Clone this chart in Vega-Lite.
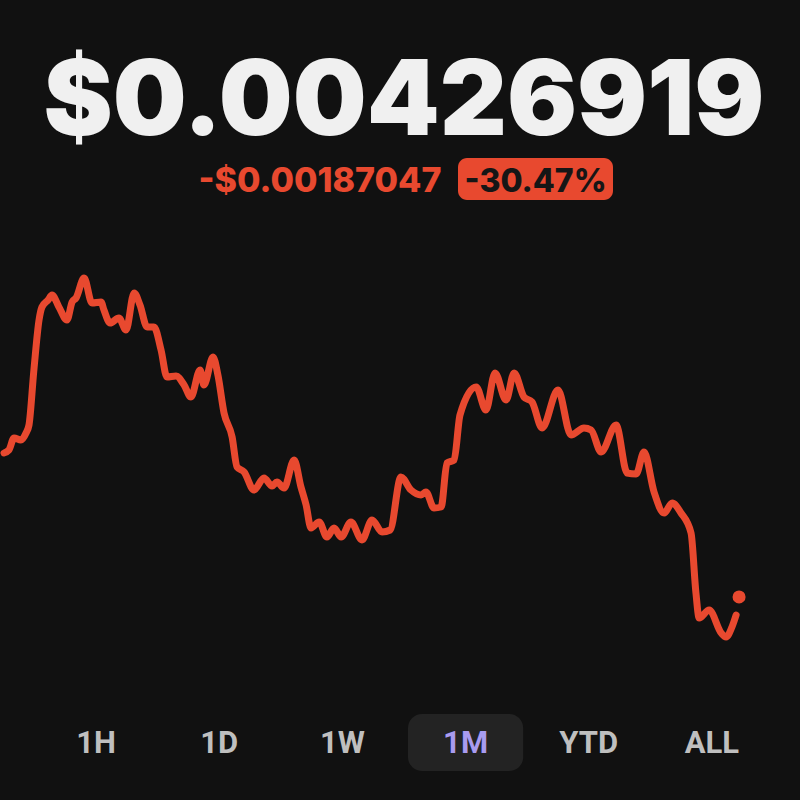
{
  "$schema": "https://vega.github.io/schema/vega-lite/v6.json",
  "background": "#111111",
  "padding": {"left": 0, "top": 0, "right": 0, "bottom": 29},
  "config": {"view": {"stroke": null}, "font": "Inter"},
  "datasets": {
    "quote": [{"price": "$0.00426919", "change": "-$0.00187047", "changePct": "-30.47%"}],
    "series": [
      {"day": 0, "price": 0.006140}, {"day": 0.20, "price": 0.006179}, {"day": 0.41, "price": 0.006335},
      {"day": 0.69, "price": 0.006309}, {"day": 0.90, "price": 0.006400}, {"day": 1.02, "price": 0.006504},
      {"day": 1.22, "price": 0.007219}, {"day": 1.43, "price": 0.007869}, {"day": 1.55, "price": 0.008038},
      {"day": 1.80, "price": 0.008129}, {"day": 1.96, "price": 0.008194}, {"day": 2.24, "price": 0.008038},
      {"day": 2.57, "price": 0.007869}, {"day": 2.78, "price": 0.008103}, {"day": 2.94, "price": 0.008155},
      {"day": 3.27, "price": 0.008415}, {"day": 3.59, "price": 0.008090}, {"day": 3.96, "price": 0.008103},
      {"day": 4.08, "price": 0.007999}, {"day": 4.33, "price": 0.007830}, {"day": 4.69, "price": 0.007895},
      {"day": 4.98, "price": 0.007739}, {"day": 5.31, "price": 0.008220}, {"day": 5.55, "price": 0.008064},
      {"day": 5.84, "price": 0.007778}, {"day": 6.12, "price": 0.007778}, {"day": 6.41, "price": 0.007479},
      {"day": 6.65, "price": 0.007128}, {"day": 7.02, "price": 0.007141}, {"day": 7.35, "price": 0.007024},
      {"day": 7.63, "price": 0.006868}, {"day": 8.00, "price": 0.007219}, {"day": 8.16, "price": 0.007024},
      {"day": 8.53, "price": 0.007388}, {"day": 8.73, "price": 0.007154}, {"day": 8.98, "price": 0.006660},
      {"day": 9.31, "price": 0.006348}, {"day": 9.51, "price": 0.005958}, {"day": 9.80, "price": 0.005893},
      {"day": 10.20, "price": 0.005659}, {"day": 10.61, "price": 0.005815}, {"day": 10.94, "price": 0.005711},
      {"day": 11.14, "price": 0.005763}, {"day": 11.43, "price": 0.005685}, {"day": 11.84, "price": 0.006049},
      {"day": 12.12, "price": 0.005698}, {"day": 12.33, "price": 0.005464}, {"day": 12.53, "price": 0.005165},
      {"day": 12.86, "price": 0.005243}, {"day": 13.18, "price": 0.005048}, {"day": 13.47, "price": 0.005165},
      {"day": 13.76, "price": 0.005048}, {"day": 14.16, "price": 0.005243}, {"day": 14.61, "price": 0.005009},
      {"day": 15.02, "price": 0.005269}, {"day": 15.43, "price": 0.005113}, {"day": 15.76, "price": 0.005139},
      {"day": 16.20, "price": 0.005828}, {"day": 16.61, "price": 0.005659}, {"day": 17.02, "price": 0.005594},
      {"day": 17.22, "price": 0.005633}, {"day": 17.55, "price": 0.005425}, {"day": 17.84, "price": 0.005438},
      {"day": 18.08, "price": 0.006010}, {"day": 18.37, "price": 0.006049}, {"day": 18.61, "price": 0.006634},
      {"day": 19.27, "price": 0.006998}, {"day": 19.67, "price": 0.006699}, {"day": 20.04, "price": 0.007180},
      {"day": 20.49, "price": 0.006829}, {"day": 20.82, "price": 0.007180}, {"day": 21.22, "price": 0.006868},
      {"day": 21.55, "price": 0.006803}, {"day": 21.96, "price": 0.006465}, {"day": 22.61, "price": 0.006959},
      {"day": 23.14, "price": 0.006374}, {"day": 23.67, "price": 0.006465}, {"day": 23.96, "price": 0.006439},
      {"day": 24.37, "price": 0.006153}, {"day": 24.98, "price": 0.006504}, {"day": 25.43, "price": 0.005880},
      {"day": 25.80, "price": 0.005867}, {"day": 26.12, "price": 0.006153}, {"day": 26.53, "price": 0.005633},
      {"day": 26.94, "price": 0.005360}, {"day": 27.27, "price": 0.005490}, {"day": 27.63, "price": 0.005360},
      {"day": 28.04, "price": 0.005100}, {"day": 28.24, "price": 0.004320}, {"day": 28.37, "price": 0.003995},
      {"day": 28.78, "price": 0.004099}, {"day": 29.27, "price": 0.003800}, {"day": 29.47, "price": 0.003748},
      {"day": 29.71, "price": 0.003878}, {"day": 29.88, "price": 0.004034}
    ],
    "current": [{"day": 30.0, "price": 0.00426919}],
    "ranges": [
      {"range": "1H", "selected": false}, {"range": "1D", "selected": false},
      {"range": "1W", "selected": false}, {"range": "1M", "selected": true},
      {"range": "YTD", "selected": false}, {"range": "ALL", "selected": false}
    ]
  },
  "spacing": 0,
  "center": true,
  "vconcat": [
    {
      "width": 800, "height": 158,
      "data": {"name": "quote"},
      "mark": {"type": "text", "font": "Inter", "fontSize": 104, "fontWeight": 900, "color": "#F0F0F0", "baseline": "alphabetic", "dy": 56},
      "encoding": {"text": {"field": "price"}}
    },
    {
      "spacing": 13,
      "hconcat": [
        {
          "width": 250, "height": 42,
          "data": {"name": "quote"},
          "mark": {"type": "text", "font": "Inter", "fontSize": 34, "fontWeight": 800, "color": "#E8492F", "dy": 3},
          "encoding": {"text": {"field": "change"}}
        },
        {
          "width": 155, "height": 42,
          "view": {"fill": "#E8492F", "cornerRadius": 9, "stroke": null},
          "data": {"name": "quote"},
          "mark": {"type": "text", "font": "Inter", "fontSize": 32, "fontWeight": 800, "color": "#161616", "dy": 3},
          "encoding": {"text": {"field": "changePct"}}
        }
      ]
    },
    {
      "width": 800, "height": 514,
      "layer": [
        {
          "data": {"name": "series"},
          "mark": {"type": "line", "color": "#E8492F", "strokeWidth": 7, "interpolate": "monotone", "strokeCap": "round", "strokeJoin": "round"},
          "encoding": {
            "x": {"field": "day", "type": "quantitative", "scale": {"domain": [0, 32.65], "nice": false, "zero": false}, "axis": null},
            "y": {"field": "price", "type": "quantitative", "scale": {"domain": [0.002747, 0.009429], "nice": false, "zero": false}, "axis": null}
          }
        },
        {
          "data": {"name": "current"},
          "mark": {"type": "circle", "color": "#E8492F", "opacity": 1, "size": 170},
          "encoding": {
            "x": {"field": "day", "type": "quantitative", "scale": {"domain": [0, 32.65], "nice": false, "zero": false}, "axis": null},
            "y": {"field": "price", "type": "quantitative", "scale": {"domain": [0.002747, 0.009429], "nice": false, "zero": false}, "axis": null}
          }
        }
      ]
    },
    {
      "width": 739, "height": 57,
      "data": {"name": "ranges"},
      "encoding": {
        "x": {"field": "range", "type": "nominal", "sort": ["1H", "1D", "1W", "1M", "YTD", "ALL"],
              "scale": {"type": "band", "paddingInner": 0.065, "paddingOuter": 0.0325}, "axis": null}
      },
      "layer": [
        {
          "transform": [{"filter": "datum.selected"}],
          "mark": {"type": "rect", "color": "#232323", "cornerRadius": 14}
        },
        {
          "mark": {"type": "text", "font": "Roboto", "fontSize": 31, "fontWeight": 700, "dy": 1},
          "encoding": {
            "text": {"field": "range"},
            "color": {"condition": {"test": "datum.selected", "value": "#A99BF0"}, "value": "#BFBFBF"}
          }
        }
      ]
    }
  ]
}
